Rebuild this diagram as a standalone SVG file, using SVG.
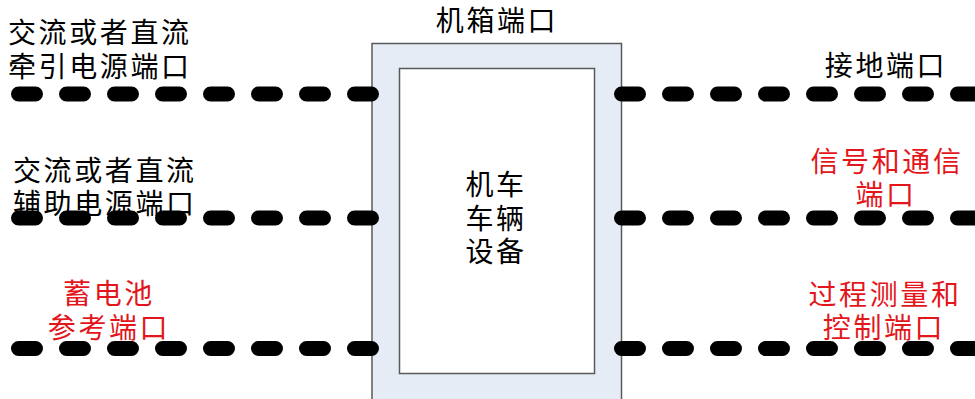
<svg xmlns="http://www.w3.org/2000/svg" width="975" height="399" viewBox="0 0 975 399">
<style>
.t{font-family:"Noto Sans CJK SC","Noto Sans CJK JP",sans-serif;font-size:28px;letter-spacing:2.6px;fill:#000}
.r{fill:#e3161b}
.m{text-anchor:middle}
.dash{fill:none;stroke:#000;stroke-width:15;stroke-linecap:round;stroke-dasharray:17 31}
</style>
<rect width="975" height="399" fill="#fff"/>
<g id="chassis">
<rect x="372" y="43.5" width="249.5" height="360" fill="#e6ecf6" stroke="#595959" stroke-width="1.5"/>
<text class="t m" x="497" y="31">机箱端口</text>
</g>
<g id="equipment">
<rect x="399.5" y="68.5" width="195" height="305" fill="#fff" stroke="#595959" stroke-width="1.5"/>
<text class="t m" x="496" y="195">机车</text>
<text class="t m" x="496" y="229">车辆</text>
<text class="t m" x="496" y="262">设备</text>
</g>
<g id="connectors">
<path class="dash" d="M18.5 94H372"/>
<path class="dash" d="M18.5 218H372"/>
<path class="dash" d="M18.5 348.5H372"/>
<path class="dash" d="M621.5 94H990"/>
<path class="dash" d="M621.5 218H990"/>
<path class="dash" d="M621.5 348.5H990"/>
</g>
<g id="traction-port">
<text class="t" x="8" y="43">交流或者直流</text>
<text class="t" x="8" y="77">牵引电源端口</text>
</g>
<g id="auxiliary-port">
<text class="t" x="13" y="181">交流或者直流</text>
<text class="t" x="13" y="214">辅助电源端口</text>
</g>
<g id="battery-port">
<text class="t r m" x="109" y="304">蓄电池</text>
<text class="t r m" x="109" y="338">参考端口</text>
</g>
<g id="earth-port">
<text class="t m" x="886" y="76">接地端口</text>
</g>
<g id="signal-port">
<text class="t r m" x="887" y="172">信号和通信</text>
<text class="t r m" x="886" y="205">端口</text>
</g>
<g id="process-port">
<text class="t r m" x="885" y="305">过程测量和</text>
<text class="t r m" x="884" y="338">控制端口</text>
</g>
</svg>
